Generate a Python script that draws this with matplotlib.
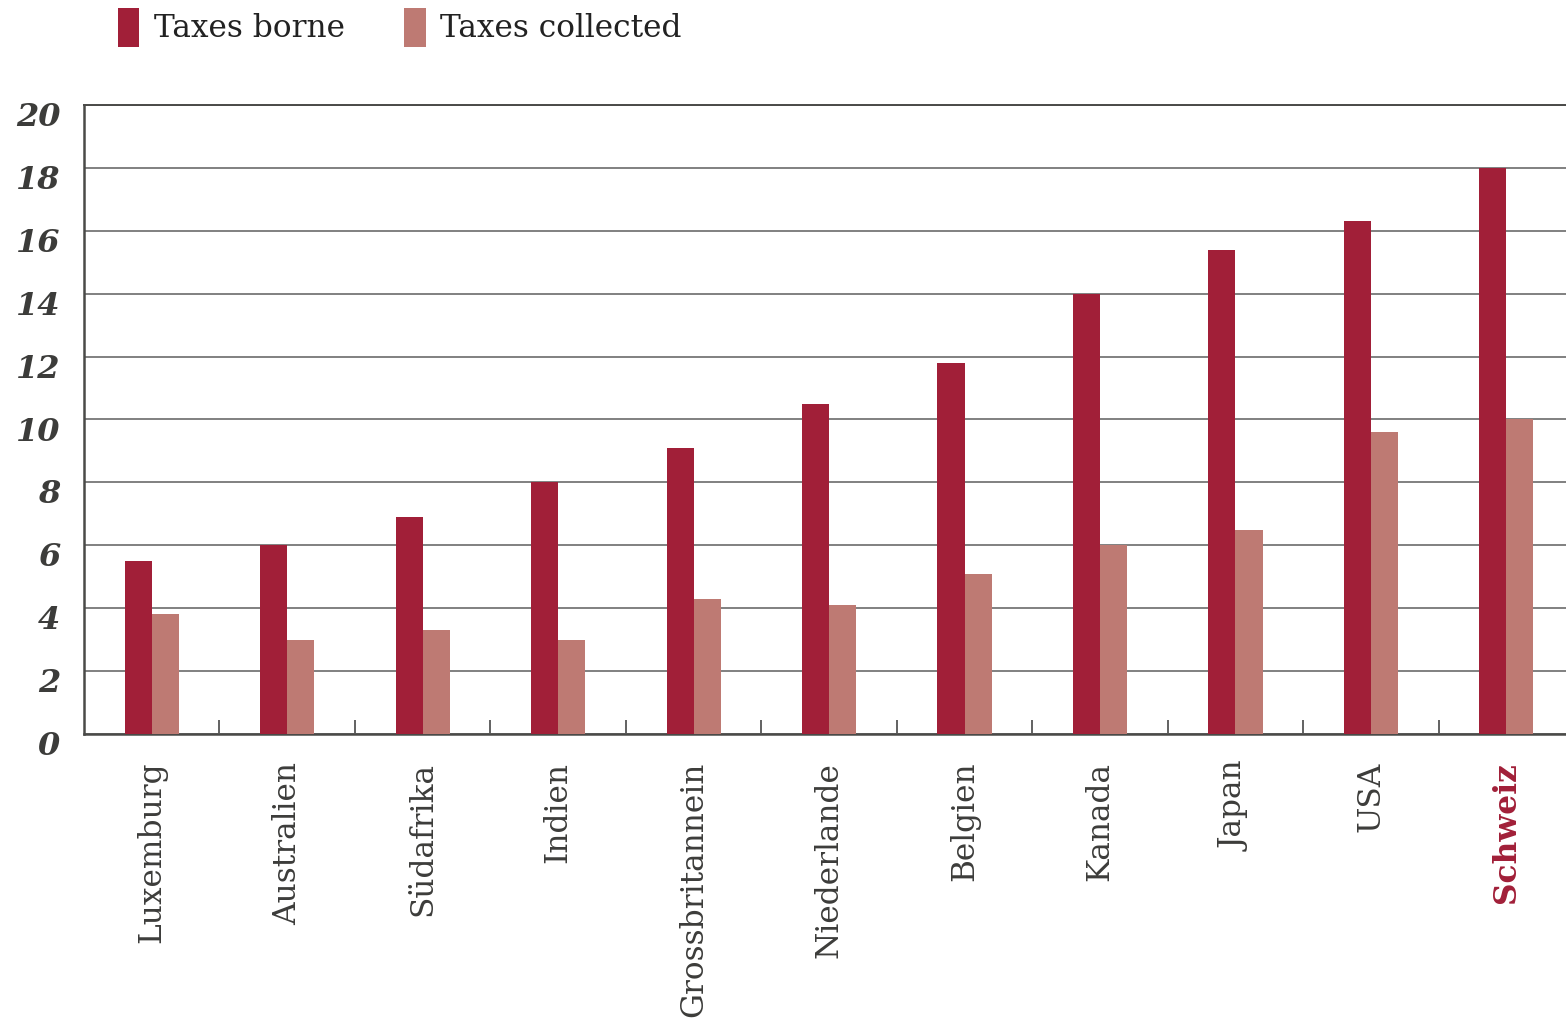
import numpy as np
import matplotlib
matplotlib.use("Agg")
import matplotlib.pyplot as plt
import matplotlib.transforms as mtransforms

countries = ["Luxemburg", "Australien", "Südafrika", "Indien", "Grossbritannein",
             "Niederlande", "Belgien", "Kanada", "Japan", "USA", "Schweiz"]
taxes_borne = [5.5, 6.0, 6.9, 8.0, 9.1, 10.5, 11.8, 14.0, 15.4, 16.3, 18.0]
taxes_collected = [3.8, 3.0, 3.3, 3.0, 4.3, 4.1, 5.1, 6.0, 6.5, 9.6, 10.0]
y_ticks = [0, 2, 4, 6, 8, 10, 12, 14, 16, 18, 20]

red = "#A11F38"
rose = "#BE7A73"
dark = "#3c3c3a"

fig = plt.figure(figsize=(15.66, 10.22), dpi=100)
ax = fig.add_axes([84/1566, 1-734/1022, 1-84/1566, (734-105)/1022])

x = np.arange(len(countries))
w = 0.2
ax.bar(x - w/2, taxes_borne, w, color=red, label="Taxes borne", zorder=3)
ax.bar(x + w/2, taxes_collected, w, color=rose, label="Taxes collected", zorder=3)

ax.set_xlim(-0.5, 10.44)
ax.set_ylim(0, 20)
ax.set_yticks(y_ticks)
ax.set_yticklabels([str(t) for t in y_ticks], fontfamily="DejaVu Serif",
                   fontweight="heavy", fontstyle="italic", fontsize=23, color=dark)
ax.tick_params(axis="y", length=0, pad=17)

ax.set_xticks(x)
ax.set_xticklabels(countries, rotation=90, fontfamily="DejaVu Serif",
                   fontsize=22.5, color=dark)
ax.tick_params(axis="x", which="major", length=0, pad=20)
ax.set_xticks(np.arange(0.5, 10.5, 1), minor=True)
ax.tick_params(axis="x", which="minor", direction="in", length=10, width=1.3, color="#555555")
lab = ax.get_xticklabels()[-1]
lab.set_color(red)
lab.set_fontweight("bold")

# nudge y labels down a little
off = mtransforms.ScaledTranslation(0, -9/100, fig.dpi_scale_trans)
for t in ax.get_yticklabels():
    t.set_transform(t.get_transform() + off)

ax.yaxis.grid(True, color="#808080", linewidth=1.4, zorder=1)
ax.set_axisbelow(True)
for s in ["left", "bottom"]:
    ax.spines[s].set_color("#4a4a48")
    ax.spines[s].set_linewidth(1.8)
ax.spines["top"].set_color("#4a4a48")
ax.spines["top"].set_linewidth(1.4)
ax.spines["right"].set_visible(False)

fig.legend(loc="upper left", bbox_to_anchor=(102/1566, 1+8/1022), ncol=2, frameon=False,
           prop={"family": "DejaVu Serif", "size": 22.5}, handlelength=0.7, handleheight=1.55,
           handletextpad=0.45, columnspacing=1.9, borderpad=0, labelcolor="#222222")

fig.savefig("out.png", dpi=100)
